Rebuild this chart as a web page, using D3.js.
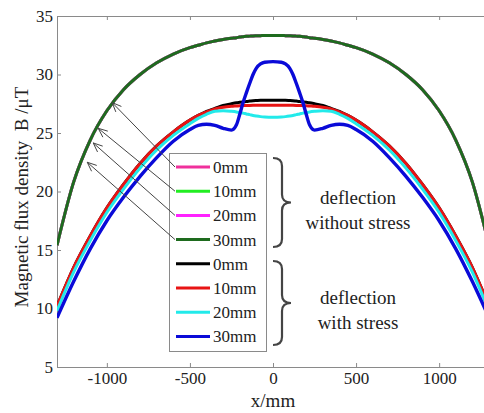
<!DOCTYPE html>
<html><head><meta charset="utf-8">
<script src="https://cdn.jsdelivr.net/npm/d3@7"></script>
<style>body{margin:0;background:#fff}svg{display:block}</style>
</head><body><svg id="c" width="484" height="413"></svg>
<script>
const xVals = [-1300,-1200,-1100,-1000,-900,-800,-700,-600,-500,-450,-400,-350,-300,-250,-220,-200,-180,-160,-140,-120,-100,-75,-50,0,50,75,100,120,140,160,180,200,220,250,300,350,400,450,500,600,700,800,900,1000,1100,1200,1300];
const noStress = [15.4,20.8,24.4,26.9,28.7,30.0,31.0,31.75,32.3,32.5,32.7,32.87,33.0,33.1,33.15,33.2,33.23,33.26,33.28,33.3,33.31,33.32,33.33,33.33,33.33,33.32,33.31,33.3,33.28,33.26,33.23,33.2,33.15,33.1,33.0,32.87,32.7,32.5,32.3,31.75,31.0,30.0,28.7,26.9,24.4,20.8,15.4];
const s0 = [10.2,13.5,16.2,18.6,20.6,22.4,23.9,25.1,26.1,26.5,26.85,27.1,27.35,27.5,27.58,27.62,27.66,27.7,27.73,27.76,27.78,27.8,27.8,27.8,27.8,27.8,27.78,27.76,27.73,27.7,27.66,27.62,27.58,27.5,27.35,27.1,26.85,26.5,26.1,25.1,23.9,22.4,20.6,18.6,16.2,13.5,10.2];
const s10 = [10.2,13.5,16.2,18.6,20.6,22.4,23.9,25.1,26.1,26.5,26.8,27.05,27.2,27.28,27.31,27.33,27.34,27.35,27.36,27.37,27.38,27.38,27.38,27.38,27.38,27.38,27.38,27.37,27.36,27.35,27.34,27.33,27.31,27.28,27.2,27.05,26.8,26.5,26.1,25.1,23.9,22.4,20.6,18.6,16.2,13.5,10.2];
const s20 = [9.8,13.1,15.8,18.2,20.2,22.0,23.55,24.8,25.8,26.25,26.6,26.85,26.9,26.85,26.8,26.75,26.7,26.63,26.57,26.5,26.45,26.4,26.37,26.35,26.37,26.4,26.45,26.5,26.57,26.63,26.7,26.75,26.8,26.85,26.9,26.85,26.6,26.25,25.8,24.8,23.55,22.0,20.2,18.2,15.8,13.1,9.8];
const s30 = [9.2,12.3,15.1,17.5,19.5,21.3,22.9,24.3,25.3,25.65,25.75,25.65,25.4,25.25,25.7,26.6,27.6,28.45,29.25,30.0,30.55,30.9,31.05,31.1,31.05,30.9,30.55,30.0,29.25,28.45,27.6,26.6,25.7,25.25,25.4,25.65,25.75,25.65,25.3,24.3,22.9,21.3,19.5,17.5,15.1,12.3,9.2];
const legendLabels = ["0mm","10mm","20mm","30mm","0mm","10mm","20mm","30mm"];
const seriesColors = ["#f0309c","#22ee22","#ff22ff","#1e6b1e","#000000","#e81414","#22eaea","#0a0ad8"];
const seriesData = [noStress,noStress,noStress,noStress,s0,s10,s20,s30];
const xTicks = [-1000,-500,0,500,1000];
const yTicks = [5,10,15,20,25,30,35];
const groupLabels = [["deflection","without stress"],["deflection","with stress"]];
const arrowTips = [[-968,27.6],[-1052,25.4],[-1082,24.15],[-1118,22.5]];

const FF = "'Liberation Serif','Times New Roman',serif";
const svg = d3.select("#c");
const L=57,R=489,T=16,B=367;
const x = d3.scaleLinear().domain([-1300,1300]).range([L,R]);
const y = d3.scaleLinear().domain([5,35]).range([B,T]);

svg.append("clipPath").attr("id","clip").append("rect").attr("x",L).attr("y",T).attr("width",R-L).attr("height",B-T);

// frame
const axc="#8a8a8a";
svg.append("line").attr("x1",L).attr("x2",R).attr("y1",T+0.5).attr("y2",T+0.5).attr("stroke",axc);
svg.append("line").attr("x1",L).attr("x2",R).attr("y1",B+0.5).attr("y2",B+0.5).attr("stroke",axc);
svg.append("line").attr("x1",L+0.5).attr("x2",L+0.5).attr("y1",T).attr("y2",B).attr("stroke",axc);

// axes
const xb = svg.append("g").attr("transform",`translate(0,${B})`).call(d3.axisBottom(x).tickValues(xTicks).tickSize(-4).tickPadding(5).tickFormat(d3.format("d")));
const xt = svg.append("g").attr("transform",`translate(0,${T})`).call(d3.axisTop(x).tickValues(xTicks).tickSize(-4).tickFormat(""));
const yl = svg.append("g").attr("transform",`translate(${L},0)`).call(d3.axisLeft(y).tickValues(yTicks).tickSize(-4).tickPadding(4));
[xb,xt,yl].forEach(g=>{g.attr("font-family",FF);g.select(".domain").remove();g.selectAll(".tick line").attr("stroke",axc);
  g.selectAll("text").attr("font-size",17).attr("fill","#222").attr("font-family",FF);});
xb.selectAll("text").text(d=>d<0?"-"+Math.abs(d):d);

svg.append("text").attr("x",273).attr("y",407).attr("text-anchor","middle").attr("font-family",FF).attr("font-size",19).attr("fill","#222").text("x/mm");
svg.append("text").attr("transform","translate(28,197) rotate(-90)").attr("text-anchor","middle").attr("font-family",FF).attr("font-size",19).attr("fill","#222").text("Magnetic flux density\u00a0\u00a0B /\u03bcT");

// curves
const line = d3.line().x((d,i)=>x(xVals[i])).y(d=>y(d)).curve(d3.curveMonotoneX);
const cg = svg.append("g").attr("clip-path","url(#clip)");
seriesData.forEach((s,i)=>{
  cg.append("path").datum(s).attr("d",line).attr("fill","none").attr("stroke",seriesColors[i]).attr("stroke-width",i===7?3.4:3).attr("stroke-linejoin","round");
});

// legend
const lx=169, ly=153, rowH=24.2, row0=167;
svg.append("rect").attr("x",lx+0.5).attr("y",ly+0.5).attr("width",97).attr("height",198).attr("fill","#fff").attr("stroke","#8a8a8a");
legendLabels.forEach((t,i)=>{
  const yy=row0+i*rowH;
  svg.append("line").attr("x1",176).attr("x2",210).attr("y1",yy).attr("y2",yy).attr("stroke",seriesColors[i]).attr("stroke-width",3);
  svg.append("text").attr("x",213).attr("y",yy+6).attr("font-family",FF).attr("font-size",17).attr("fill","#222").text(t);
});

// arrows
arrowTips.forEach((p,i)=>{
  const tx=x(p[0]), ty=y(p[1]), sx=175, sy=row0+i*rowH;
  svg.append("line").attr("x1",sx).attr("y1",sy).attr("x2",tx).attr("y2",ty).attr("stroke","#444").attr("stroke-width",1);
  const a=Math.atan2(sy-ty,sx-tx), hl=10, ha=0.4;
  svg.append("path").attr("d",`M${tx+hl*Math.cos(a+ha)},${ty+hl*Math.sin(a+ha)} L${tx},${ty} L${tx+hl*Math.cos(a-ha)},${ty+hl*Math.sin(a-ha)}`)
    .attr("fill","none").attr("stroke","#444").attr("stroke-width",1);
});

// braces
function brace(x0,y0,y1,w){const ym=(y0+y1)/2,r=8;
  return `M${x0},${y0} Q${x0+w},${y0} ${x0+w},${y0+r} L${x0+w},${ym-r} Q${x0+w},${ym} ${x0+2*w},${ym} Q${x0+w},${ym} ${x0+w},${ym+r} L${x0+w},${y1-r} Q${x0+w},${y1} ${x0},${y1}`;}
[[158,247],[261,345]].forEach((b,i)=>{
  svg.append("path").attr("d",brace(273,b[0],b[1],9)).attr("fill","none").attr("stroke","#444").attr("stroke-width",2.2);
  const cy=(b[0]+b[1])/2;
  svg.append("text").attr("x",358).attr("y",cy+1).attr("text-anchor","middle").attr("font-family",FF).attr("font-size",19).attr("fill","#222").text(groupLabels[i][0]);
  svg.append("text").attr("x",358).attr("y",cy+26).attr("text-anchor","middle").attr("font-family",FF).attr("font-size",19).attr("fill","#222").text(groupLabels[i][1]);
});
</script></body></html>
